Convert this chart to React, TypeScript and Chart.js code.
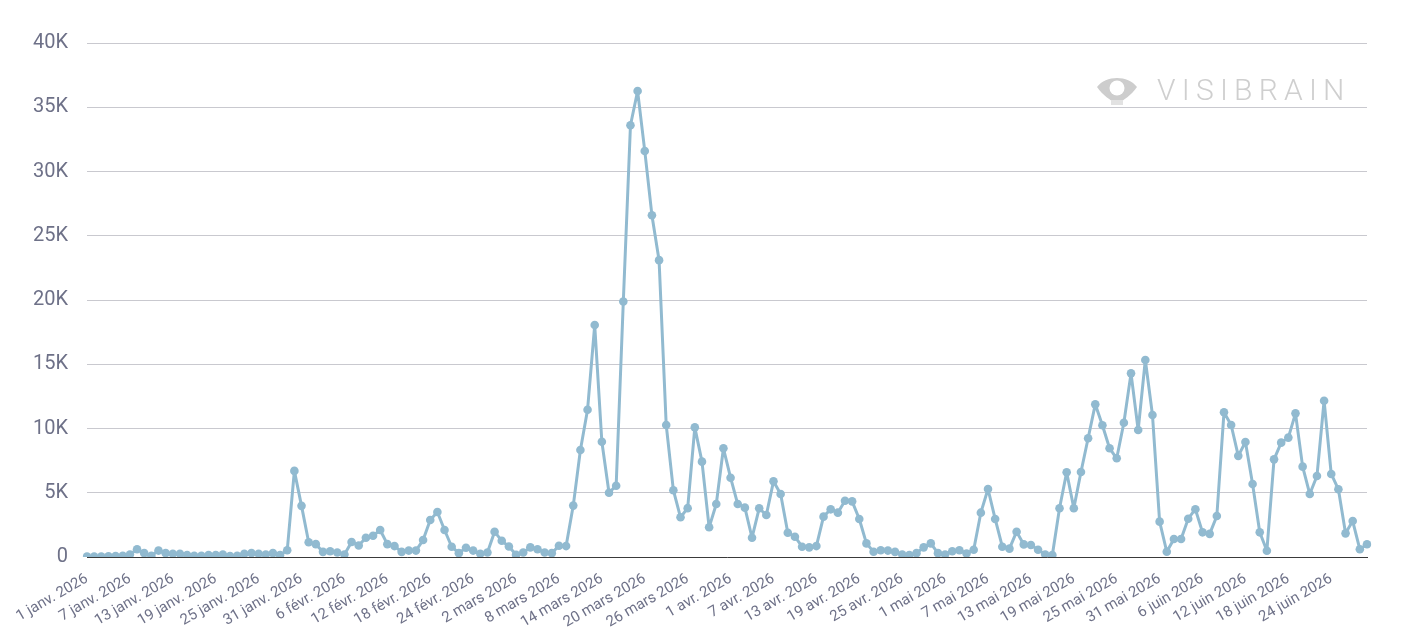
import React, { useEffect, useRef } from "react";
import { Chart, registerables } from "chart.js";

Chart.register(...registerables);

const monthNames = ["janv.", "févr.", "mars", "avr.", "mai", "juin"];
const monthLengths = [31, 28, 31, 30, 31, 30];
const year = "2026";

const values = [
  30, 30, 30, 50, 80, 100, 200, 600, 300, 100,
  500, 300, 250, 250, 150, 100, 100, 150, 150, 200,
  80, 100, 250, 300, 250, 200, 300, 150, 520, 6700,
  3980, 1150, 1000, 400, 450, 350, 200, 1170, 900, 1500,
  1650, 2100, 1000, 850, 400, 500, 500, 1320, 2880, 3500,
  2100, 800, 300, 720, 500, 250, 350, 1970, 1260, 820,
  170, 350, 750, 600, 350, 300, 880, 850, 4000, 8330,
  11460, 18050, 8970, 5000, 5550, 19880, 33600, 36260, 31600, 26600,
  23100, 10270, 5200, 3090, 3800, 10090, 7420, 2310, 4120, 8460,
  6170, 4120, 3840, 1500, 3790, 3270, 5890, 4900, 1890, 1580,
  800, 750, 850, 3140, 3710, 3450, 4380, 4330, 2960, 1060,
  410, 520, 500, 400, 200, 150, 300, 750, 1060, 300,
  200, 450, 520, 270, 570, 3450, 5290, 2960, 800, 650,
  1970, 980, 930, 560, 200, 150, 3790, 6590, 3790, 6620,
  9240, 11880, 10250, 8460, 7680, 10450, 14290, 9880, 15330, 11050,
  2750, 410, 1400, 1400, 2980, 3720, 1920, 1800, 3190, 11260,
  10270, 7870, 8950, 5680, 1920, 490, 7600, 8900, 9290, 11180,
  7030, 4900, 6300, 12160, 6460, 5270, 1840, 2800, 600, 990,
];

const allDays: string[] = [];
monthNames.forEach((m, mi) => {
  for (let d = 1; d <= monthLengths[mi]; d++) allDays.push(`${d} ${m} ${year}`);
});
const categories = allDays.slice(0, values.length);
const labelEvery = 6;

const yMax = 40000;
const yStep = 5000;

const lineColor = "#91bad0";
const tickColor = "#6e7188";
const gridColor = "#c9c9cf";

export default function App() {
  const canvasRef = useRef<HTMLCanvasElement | null>(null);

  useEffect(() => {
    if (!canvasRef.current) return;
    const chart = new Chart(canvasRef.current, {
      type: "line",
      data: {
        labels: categories,
        datasets: [
          {
            data: values,
            borderColor: lineColor,
            backgroundColor: lineColor,
            borderWidth: 3,
            borderJoinStyle: "round",
            pointRadius: 4.3,
            pointBackgroundColor: lineColor,
            pointBorderWidth: 0,
            tension: 0,
          },
        ],
      },
      options: {
        animation: false,
        responsive: true,
        maintainAspectRatio: false,
        layout: { padding: { top: 43, right: 37, left: 0, bottom: 0 } },
        plugins: { legend: { display: false }, tooltip: { enabled: false } },
        scales: {
          x: {
            grid: { display: false },
            border: { display: true, color: "#3a3a3a", width: 1 },
            afterFit: (scale: any) => {
              scale.height = 85;
            },
            ticks: {
              autoSkip: false,
              minRotation: 30,
              maxRotation: 30,
              padding: 5,
              color: tickColor,
              font: { family: "Roboto", size: 15 },
              callback: (_v: any, i: number) => (i % labelEvery === 0 ? categories[i] : ""),
            },
          },
          y: {
            min: 0,
            max: yMax,
            border: { display: false },
            grid: { color: gridColor, lineWidth: 1, drawTicks: false },
            afterFit: (scale: any) => {
              scale.width = 87;
            },
            ticks: {
              stepSize: yStep,
              padding: 19,
              color: tickColor,
              font: { family: "Roboto", size: 20 },
              callback: (v: any) => (Number(v) === 0 ? "0" : `${Number(v) / 1000}K`),
            },
          },
        },
      },
    });
    return () => chart.destroy();
  }, []);

  return (
    <div style={{ position: "fixed", left: 0, top: 0, width: 1404, height: 642, background: "#fff" }}>
      <canvas ref={canvasRef} />
      <div
        style={{
          position: "absolute",
          left: 1096,
          top: 74,
          display: "flex",
          alignItems: "center",
          pointerEvents: "none",
        }}
      >
        <svg width="42" height="32" viewBox="0 0 42 32">
          <path d="M1 13 C10 1, 32 1, 41 13 C35 22, 28 25, 21 31 C14 25, 7 22, 1 13 Z" fill="#cdcdcd" />
          <circle cx="21" cy="14" r="7.5" fill="#ffffff" />
          <rect x="15" y="26" width="12" height="5" fill="#e2e2e2" />
        </svg>
        <span
          style={{
            marginLeft: 19,
            fontFamily: "Roboto",
            fontWeight: 300,
            fontSize: 30,
            letterSpacing: 6.2,
            color: "#cfcfcf",
            lineHeight: "32px",
          }}
        >
          VISIBRAIN
        </span>
      </div>
    </div>
  );
}
